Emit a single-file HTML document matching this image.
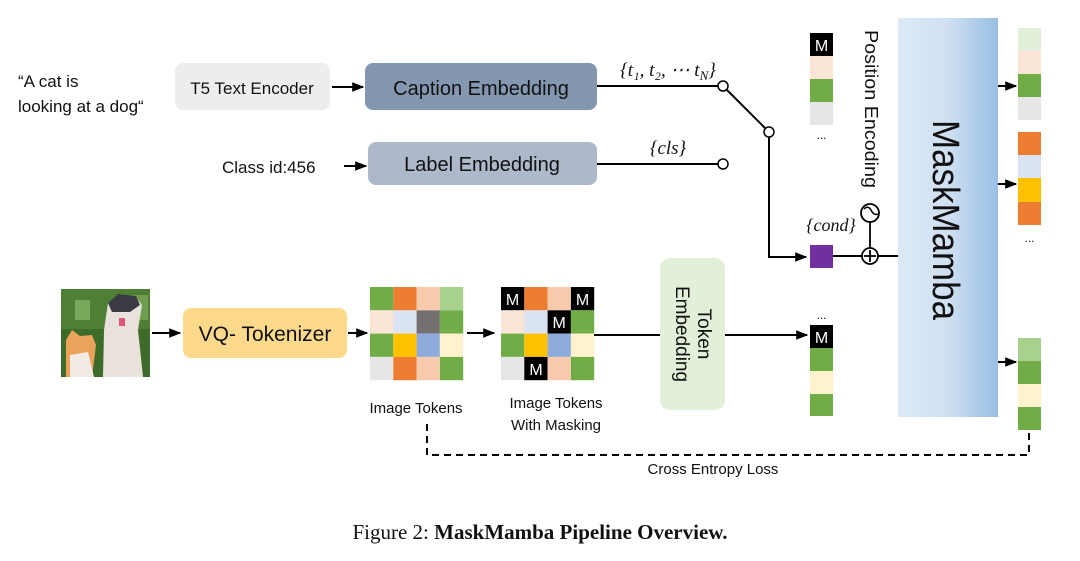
<!DOCTYPE html>
<html><head><meta charset="utf-8"><style>
html,body{margin:0;padding:0;background:#fff;}
svg{display:block;}
text{font-family:"Liberation Sans",sans-serif;fill:#111;}
.s{font-family:"Liberation Serif",serif;font-style:italic;}
</style></head><body>
<svg width="1080" height="561" viewBox="0 0 1080 561" xmlns="http://www.w3.org/2000/svg">
<defs>
<marker id="a" viewBox="0 0 10 10" refX="9" refY="5" markerWidth="6" markerHeight="6" orient="auto"><path d="M0,1 L10,5 L0,9 z" fill="#000"/></marker>
<linearGradient id="g" x1="0" x2="1" y1="0" y2="0"><stop offset="0" stop-color="#dde9f6"/><stop offset="0.5" stop-color="#cfe0f2"/><stop offset="1" stop-color="#98bfe3"/></linearGradient>
</defs>
<text x="18" y="87" font-size="17">“A cat is</text>
<text x="18" y="112" font-size="17">looking at a dog“</text>
<rect x="175" y="63" width="155" height="47" rx="8" fill="#ededed"/>
<text x="252" y="94" font-size="17" text-anchor="middle">T5 Text Encoder</text>
<line x1="332" y1="87" x2="363" y2="87" stroke="#000" stroke-width="2" marker-end="url(#a)"/>
<rect x="365" y="63" width="232" height="47" rx="8" fill="#8497b0"/>
<text x="481" y="95" font-size="20" text-anchor="middle">Caption Embedding</text>
<line x1="597" y1="86" x2="718" y2="86" stroke="#000" stroke-width="2"/>
<text x="668" y="76" font-size="19" class="s" text-anchor="middle">{t₁, t₂, ⋯ t<tspan font-size="13" dy="4">N</tspan><tspan dy="-4">}</tspan></text>
<line x1="727" y1="90" x2="765" y2="128" stroke="#000" stroke-width="2"/>
<circle cx="723" cy="86" r="5" fill="#fff" stroke="#000" stroke-width="1.5"/>
<polyline points="769,137 769,257 806,257" fill="none" stroke="#000" stroke-width="2" marker-end="url(#a)"/>
<circle cx="769" cy="132" r="5" fill="#fff" stroke="#000" stroke-width="1.5"/>
<text x="222" y="173" font-size="17">Class id:456</text>
<line x1="344" y1="166" x2="366" y2="166" stroke="#000" stroke-width="2" marker-end="url(#a)"/>
<rect x="368" y="142" width="229" height="43" rx="8" fill="#adb9ca"/>
<text x="482" y="171" font-size="20" text-anchor="middle">Label Embedding</text>
<line x1="597" y1="164" x2="718" y2="164" stroke="#000" stroke-width="2"/>
<circle cx="723" cy="164" r="5" fill="#fff" stroke="#000" stroke-width="1.5"/>
<text x="668" y="154" font-size="19" class="s" text-anchor="middle">{cls}</text>
<text x="831" y="231" font-size="18" class="s" text-anchor="middle">{cond}</text>
<rect x="810" y="245" width="23" height="23" fill="#7030a0"/>
<line x1="833" y1="256" x2="862" y2="256" stroke="#000" stroke-width="2"/>
<line x1="878" y1="256" x2="898" y2="256" stroke="#000" stroke-width="2"/>
<circle cx="870" cy="256" r="8" fill="#fff" stroke="#000" stroke-width="1.8"/>
<line x1="870" y1="250" x2="870" y2="262" stroke="#000" stroke-width="1.8"/><line x1="864" y1="256" x2="876" y2="256" stroke="#000" stroke-width="1.8"/>
<line x1="870" y1="222" x2="870" y2="248" stroke="#000" stroke-width="1.8"/>
<circle cx="870" cy="213" r="9" fill="#fff" stroke="#000" stroke-width="1.8"/>
<path d="M864,209 Q868,205 871,210 Q874,216 878,214" fill="none" stroke="#000" stroke-width="1.5"/>
<text transform="translate(865,30) rotate(90)" font-size="18" textLength="158" lengthAdjust="spacingAndGlyphs">Position Encoding</text>
<rect x="810" y="33" width="23" height="23" fill="#000"/><text x="821.5" y="51" font-size="16" style="fill:#fff" text-anchor="middle">M</text>
<rect x="810" y="56" width="23" height="23" fill="#fbe5d6"/>
<rect x="810" y="79" width="23" height="23" fill="#70ad47"/>
<rect x="810" y="102" width="23" height="23" fill="#e7e6e6"/>
<text x="821.5" y="139" font-size="12" text-anchor="middle">...</text>
<rect x="898" y="18" width="100" height="399" fill="url(#g)"/>
<text transform="translate(933,120) rotate(90)" font-size="38" textLength="200" lengthAdjust="spacingAndGlyphs">MaskMamba</text>
<line x1="998" y1="86" x2="1016" y2="86" stroke="#000" stroke-width="2" marker-end="url(#a)"/>
<rect x="1018" y="28" width="23" height="23" fill="#e2efda"/>
<rect x="1018" y="51" width="23" height="23" fill="#fbe5d6"/>
<rect x="1018" y="74" width="23" height="23" fill="#70ad47"/>
<rect x="1018" y="97" width="23" height="23" fill="#e7e6e6"/>
<line x1="998" y1="184" x2="1016" y2="184" stroke="#000" stroke-width="2" marker-end="url(#a)"/>
<rect x="1018" y="132" width="23" height="23" fill="#ed7d31"/>
<rect x="1018" y="155" width="23" height="23" fill="#dae3f3"/>
<rect x="1018" y="178" width="23" height="24" fill="#ffc000"/>
<rect x="1018" y="202" width="23" height="23" fill="#ed7d31"/>
<text x="1029.5" y="242" font-size="12" text-anchor="middle">...</text>
<line x1="998" y1="362" x2="1016" y2="362" stroke="#000" stroke-width="2" marker-end="url(#a)"/>
<rect x="1018" y="338" width="23" height="23" fill="#a9d18e"/>
<rect x="1018" y="361" width="23" height="23" fill="#70ad47"/>
<rect x="1018" y="384" width="23" height="23" fill="#fff2cc"/>
<rect x="1018" y="407" width="23" height="23" fill="#70ad47"/>
<rect x="61" y="289" width="89" height="88" fill="#3d6b2a"/>
<rect x="61" y="289" width="89" height="40" fill="#4f7f35"/>
<rect x="75" y="300" width="15" height="20" fill="#7aa85a"/>
<rect x="130" y="295" width="18" height="25" fill="#6f9d4f"/>
<path d="M66,377 L66,340 L72,330 L80,336 L92,335 L96,345 L92,377 Z" fill="#e9a35a"/>
<path d="M70,377 L70,355 L88,352 L94,377 Z" fill="#f2ece4"/>
<path d="M103,377 L104,330 L108,303 L118,295 L135,296 L142,305 L138,330 L143,377 Z" fill="#e8e2da"/>
<path d="M108,303 L118,294 L136,296 L140,305 L130,312 L112,312 Z" fill="#3a3a42"/>
<rect x="119" y="318" width="6" height="8" fill="#e2557a"/>
<line x1="152" y1="333" x2="180" y2="333" stroke="#000" stroke-width="2" marker-end="url(#a)"/>
<rect x="183" y="308" width="164" height="50" rx="8" fill="#fdd98c"/>
<text x="265" y="341" font-size="21" text-anchor="middle">VQ- Tokenizer</text>
<line x1="348" y1="333" x2="367" y2="333" stroke="#000" stroke-width="2" marker-end="url(#a)"/>
<g transform="translate(370,287)">
<rect x="0" y="0" width="23.3" height="23.3" fill="#70ad47"/><rect x="23.3" y="0" width="23.3" height="23.3" fill="#ed7d31"/><rect x="46.6" y="0" width="23.3" height="23.3" fill="#f8cbad"/><rect x="69.9" y="0" width="23.3" height="23.3" fill="#a9d18e"/>
<rect x="0" y="23.3" width="23.3" height="23.3" fill="#fbe5d6"/><rect x="23.3" y="23.3" width="23.3" height="23.3" fill="#dae3f3"/><rect x="46.6" y="23.3" width="23.3" height="23.3" fill="#767171"/><rect x="69.9" y="23.3" width="23.3" height="23.3" fill="#70ad47"/>
<rect x="0" y="46.6" width="23.3" height="23.3" fill="#70ad47"/><rect x="23.3" y="46.6" width="23.3" height="23.3" fill="#ffc000"/><rect x="46.6" y="46.6" width="23.3" height="23.3" fill="#8faadc"/><rect x="69.9" y="46.6" width="23.3" height="23.3" fill="#fff2cc"/>
<rect x="0" y="69.9" width="23.3" height="23.3" fill="#e7e6e6"/><rect x="23.3" y="69.9" width="23.3" height="23.3" fill="#ed7d31"/><rect x="46.6" y="69.9" width="23.3" height="23.3" fill="#f8cbad"/><rect x="69.9" y="69.9" width="23.3" height="23.3" fill="#70ad47"/>
</g>
<line x1="467" y1="333" x2="494" y2="333" stroke="#000" stroke-width="2" marker-end="url(#a)"/>
<g transform="translate(501,287)" font-size="16">
<rect x="0" y="0" width="23.3" height="23.3" fill="#000"/><rect x="23.3" y="0" width="23.3" height="23.3" fill="#ed7d31"/><rect x="46.6" y="0" width="23.3" height="23.3" fill="#f8cbad"/><rect x="69.9" y="0" width="23.3" height="23.3" fill="#000"/>
<rect x="0" y="23.3" width="23.3" height="23.3" fill="#fbe5d6"/><rect x="23.3" y="23.3" width="23.3" height="23.3" fill="#dae3f3"/><rect x="46.6" y="23.3" width="23.3" height="23.3" fill="#000"/><rect x="69.9" y="23.3" width="23.3" height="23.3" fill="#70ad47"/>
<rect x="0" y="46.6" width="23.3" height="23.3" fill="#70ad47"/><rect x="23.3" y="46.6" width="23.3" height="23.3" fill="#ffc000"/><rect x="46.6" y="46.6" width="23.3" height="23.3" fill="#8faadc"/><rect x="69.9" y="46.6" width="23.3" height="23.3" fill="#fff2cc"/>
<rect x="0" y="69.9" width="23.3" height="23.3" fill="#e7e6e6"/><rect x="23.3" y="69.9" width="23.3" height="23.3" fill="#000"/><rect x="46.6" y="69.9" width="23.3" height="23.3" fill="#f8cbad"/><rect x="69.9" y="69.9" width="23.3" height="23.3" fill="#70ad47"/>
<text x="11.6" y="18" style="fill:#fff" text-anchor="middle">M</text>
<text x="81.5" y="18" style="fill:#fff" text-anchor="middle">M</text>
<text x="58.2" y="41" style="fill:#fff" text-anchor="middle">M</text>
<text x="35" y="88" style="fill:#fff" text-anchor="middle">M</text>
</g>
<line x1="594" y1="335" x2="660" y2="335" stroke="#000" stroke-width="2"/>
<rect x="660" y="258" width="65" height="152" rx="10" fill="#e2f0d9"/>
<text transform="translate(698,334) rotate(90)" font-size="19" text-anchor="middle">Token</text>
<text transform="translate(676,334) rotate(90)" font-size="19" text-anchor="middle">Embedding</text>
<line x1="725" y1="335" x2="807" y2="335" stroke="#000" stroke-width="2" marker-end="url(#a)"/>
<text x="821.5" y="319" font-size="12" text-anchor="middle">...</text>
<rect x="810" y="325" width="23" height="23" fill="#000"/><text x="821.5" y="343" font-size="16" style="fill:#fff" text-anchor="middle">M</text>
<rect x="810" y="348" width="23" height="23" fill="#70ad47"/>
<rect x="810" y="371" width="23" height="23" fill="#fff2cc"/>
<rect x="810" y="394" width="23" height="22" fill="#70ad47"/>
<text x="416" y="413" font-size="15" text-anchor="middle">Image Tokens</text>
<text x="556" y="408" font-size="15" text-anchor="middle">Image Tokens</text>
<text x="556" y="430" font-size="15" text-anchor="middle">With Masking</text>
<polyline points="427,424 427,455 1029,455 1029,432" fill="none" stroke="#000" stroke-width="2" stroke-dasharray="7,5"/>
<text x="713" y="474" font-size="15" text-anchor="middle">Cross Entropy Loss</text>
<text x="540" y="539" font-size="21" style="font-family:'Liberation Serif',serif" text-anchor="middle">Figure 2: <tspan font-weight="bold">MaskMamba Pipeline Overview.</tspan></text>
</svg>
</body></html>
